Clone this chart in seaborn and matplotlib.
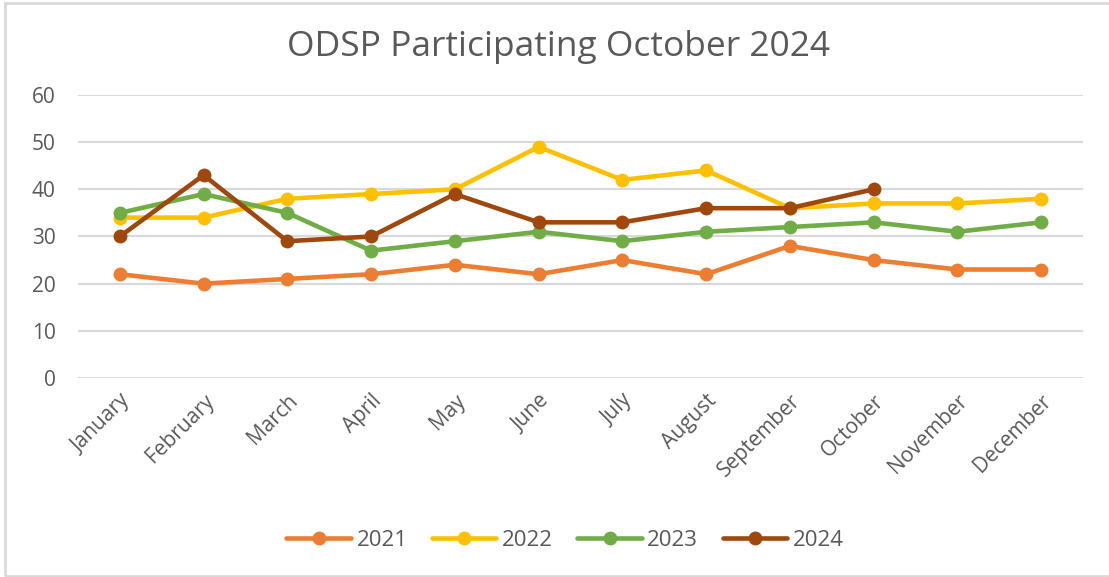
import pandas as pd
import seaborn as sns
import matplotlib.pyplot as plt
from matplotlib.patches import Rectangle

# data
months = ['January', 'February', 'March', 'April', 'May', 'June', 'July',
          'August', 'September', 'October', 'November', 'December']
y2021 = [22, 20, 21, 22, 24, 22, 25, 22, 28, 25, 23, 23]
y2022 = [34, 34, 38, 39, 40, 49, 42, 44, 36, 37, 37, 38]
y2023 = [35, 39, 35, 27, 29, 31, 29, 31, 32, 33, 31, 33]
y2024 = [30, 43, 29, 30, 39, 33, 33, 36, 36, 40]
years = ['2021', '2022', '2023', '2024']
colors = ['#ED7D31', '#FFC000', '#70AD47', '#9E480E']

# long form table for seaborn
rows = []
for yr, vals in zip(years, [y2021, y2022, y2023, y2024]):
    for i, v in enumerate(vals):
        rows.append({'month': i, 'year': yr, 'value': v})
df = pd.DataFrame(rows)

sns.set_style('white')
plt.rcParams['font.family'] = ['Open Sans', 'DejaVu Sans']

fig = plt.figure(figsize=(11.09, 5.77), dpi=100)
ax = fig.add_axes([0.0703, 0.3449, 0.9063, 0.4905])

sns.lineplot(data=df, x='month', y='value', hue='year', palette=colors,
             marker='o', markersize=10, markeredgewidth=0, linewidth=3.3,
             ax=ax)

ax.set_xlim(-0.5, 11.5)
ax.set_ylim(0, 60)
ax.set_yticks(range(0, 61, 10))
ax.set_xticks(range(len(months)))
ax.set_xticklabels(months, rotation=45, ha='right', rotation_mode='anchor')
ax.tick_params(axis='both', colors='#595959', labelsize=15, length=0)
ax.tick_params(axis='x', pad=9)
ax.tick_params(axis='y', pad=16)
ax.set_xlabel('')
ax.set_ylabel('')
ax.yaxis.grid(True, color='#d9d9d9', linewidth=1.5)
for s in ax.spines.values():
    s.set_visible(False)

fig.text(0.504, 0.918, 'ODSP Participating October 2024', ha='center',
         va='center', fontsize=25.5, color='#595959')

leg = ax.legend(loc='center', bbox_to_anchor=(0.5095, 0.063),
                bbox_transform=fig.transFigure, ncol=4, frameon=False,
                fontsize=16, handlelength=2.9, columnspacing=1.1,
                handletextpad=0.25)
for t in leg.get_texts():
    t.set_color('#595959')

# chart border
fig.patches.append(Rectangle((5 / 1109, 1 / 577), 1.2, 573 / 577,
                             transform=fig.transFigure, fill=False,
                             edgecolor='#d9d9d9', linewidth=2))

plt.savefig('out.png', dpi=100)
